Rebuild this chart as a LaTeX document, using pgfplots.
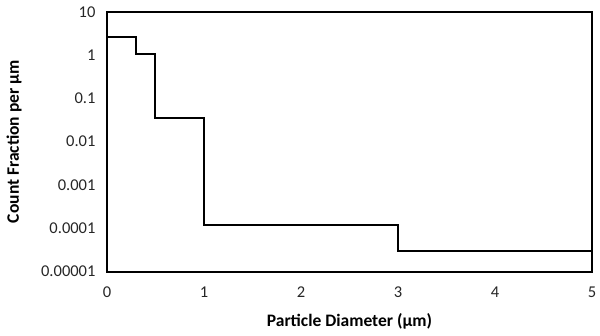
\documentclass[border=0pt]{standalone}
\usepackage{fontspec}
\setmainfont{Carlito}
\usepackage{pgfplots}
\pgfplotsset{compat=1.18}
\begin{document}
\begin{tikzpicture}
\useasboundingbox (-107pt,-63.3pt) rectangle (493pt,271.7pt);
\begin{axis}[
  at={(0,0)}, anchor=south west,
  scale only axis, width=485pt, height=260pt,
  xmin=0, xmax=5, ymode=log, ymin=1e-5, ymax=10,
  xtick={0,1,2,3,4,5},
  ytick={1e-5,1e-4,1e-3,1e-2,1e-1,1,10},
  yticklabels={0.00001,0.0001,0.001,0.01,0.1,1,10},
  major tick length=0pt, minor tick num=0,
  log basis y=10,
  ytick style={draw=none}, xtick style={draw=none},
  yminorticks=false,
  axis line style={line width=1.8pt, black},
  tick label style={font=\fontsize{16.5}{18}\selectfont, text=black!85},
  /pgf/number format/assume math mode=true,
  xticklabel style={yshift=-12pt},
  yticklabel style={xshift=-8pt},
  xlabel={\textbf{Particle Diameter (µm)}},
  ylabel={\textbf{Count Fraction per µm}},
  label style={font=\fontsize{17.5}{19}\selectfont},
  xlabel style={at={([yshift=-50pt]axis description cs:0.5,0)}, anchor=center},
  ylabel style={at={([xshift=-93pt]axis description cs:0,0.5)}, anchor=center, rotate=0},
]
\addplot[const plot mark left, line width=2pt, black, mark=none] coordinates {
  (0,2.6) (0.3,1.05) (0.5,0.036) (1,0.00012) (3,0.00003) (5,0.00003)
};
\end{axis}
\end{tikzpicture}
\end{document}
